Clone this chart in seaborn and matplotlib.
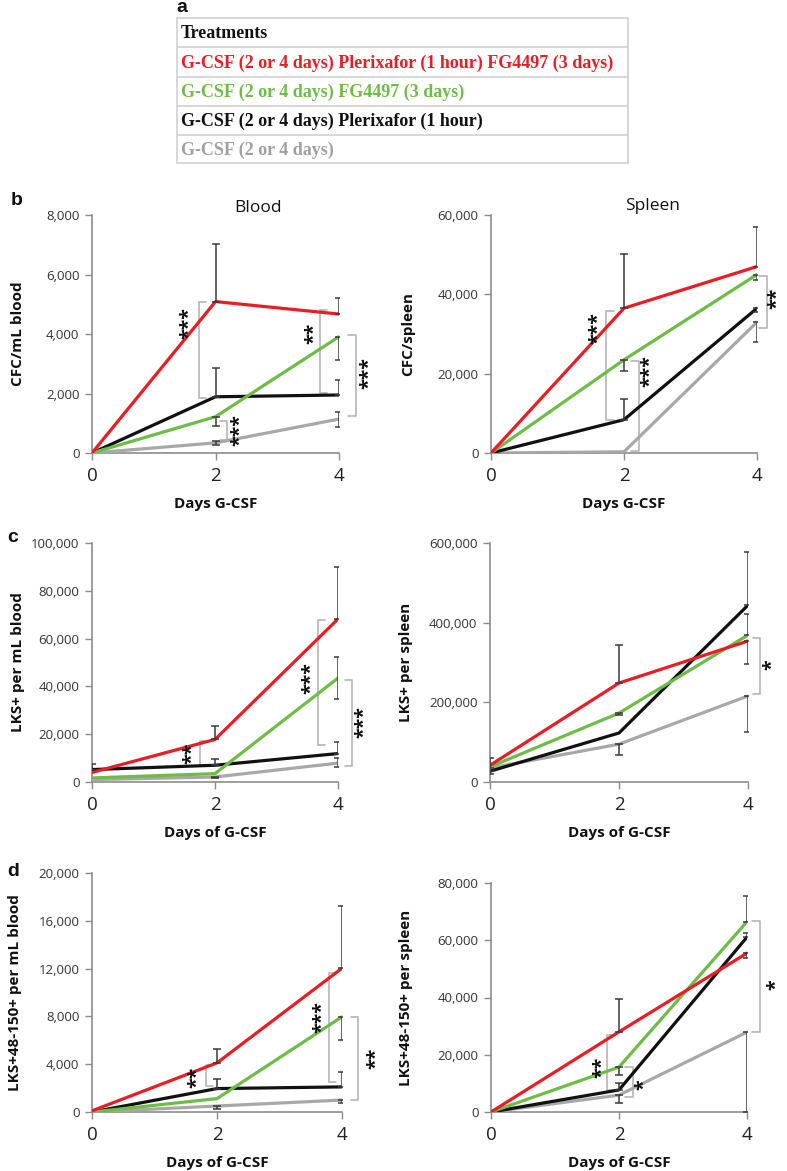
import pandas as pd
import matplotlib
matplotlib.use('Agg')
import matplotlib.pyplot as plt
import seaborn as sns
from matplotlib.ticker import FuncFormatter

sns.set_style('white')
plt.rcParams['font.family'] = ['Open Sans', 'DejaVu Sans']

################################################################################
# data

DAYS = [0, 2, 4]
GROUPS = ['G+P+FG', 'G+FG', 'G+P', 'G']
COLORS = {'G+P+FG': '#ec1c24', 'G+FG': '#6cbd45', 'G+P': '#111111', 'G': '#a8a8a8'}

TABLE_HEADER = 'Treatments'
TABLE_ROWS = [
    'G-CSF (2 or 4 days) Plerixafor (1 hour) FG4497 (3 days)',
    'G-CSF (2 or 4 days) FG4497 (3 days)',
    'G-CSF (2 or 4 days) Plerixafor (1 hour)',
    'G-CSF (2 or 4 days)',
]

# b - CFC
cfc_blood = {'G+P+FG': [0, 5090, 4670], 'G+FG': [0, 1220, 3910],
             'G+P': [0, 1890, 1950], 'G': [0, 340, 1140]}
cfc_spleen = {'G+P+FG': [0, 36500, 47000], 'G+FG': [0, 23500, 45000],
              'G+P': [0, 8400, 36500], 'G': [0, 300, 33000]}
# c - LKS+
lks_blood = {'G+P+FG': [4000, 17800, 68200], 'G+FG': [1700, 3500, 43500],
             'G+P': [5200, 7000, 11900], 'G': [1000, 2100, 7900]}
lks_spleen = {'G+P+FG': [42000, 248500, 354000], 'G+FG': [38000, 173000, 369000],
              'G+P': [27000, 123000, 444000], 'G': [35000, 95000, 216000]}
# d - LKS+48-150+
slam_blood = {'G+P+FG': [100, 4110, 12030], 'G+FG': [0, 1120, 7970],
              'G+P': [0, 1960, 2100], 'G': [0, 500, 1000]}
slam_spleen = {'G+P+FG': [0, 28000, 55500], 'G+FG': [0, 15700, 66500],
               'G+P': [0, 7700, 61100], 'G': [0, 5900, 27900]}

# error bars: (group, day, low end, high end)
cfc_blood_err = [('G+P+FG', 2, 5090, 7030), ('G+P+FG', 4, 4670, 5210),
                 ('G+FG', 2, 920, 1220), ('G+FG', 4, 3130, 3910),
                 ('G+P', 2, 1890, 2860), ('G+P', 4, 1950, 2450),
                 ('G', 2, 270, 410), ('G', 4, 870, 1380)]
cfc_spleen_err = [('G+P+FG', 2, 36500, 50100), ('G+P+FG', 4, 47000, 57000),
                  ('G+FG', 2, 20700, 23500), ('G+FG', 4, 43600, 45000),
                  ('G+P', 2, 8400, 13600), ('G+P', 4, 35500, 36500),
                  ('G', 4, 28000, 33000)]
lks_blood_err = [('G+P', 0, 5200, 7500), ('G+P+FG', 2, 17800, 23400),
                 ('G+P+FG', 4, 68200, 90000), ('G+P', 2, 7000, 9600),
                 ('G+P', 4, 11900, 16700), ('G+FG', 4, 34700, 52300),
                 ('G', 2, 1500, 2100), ('G', 4, 6300, 10000)]
lks_spleen_err = [('G', 0, 35000, 60000), ('G+P', 0, 20000, 27000),
                  ('G+P+FG', 2, 248500, 344000), ('G+FG', 2, 168000, 173000),
                  ('G', 2, 68000, 95000), ('G+P', 4, 444000, 578000),
                  ('G+FG', 4, 369000, 422000), ('G+P+FG', 4, 296000, 354000),
                  ('G', 4, 125500, 216000)]
slam_blood_err = [('G+P+FG', 2, 4110, 5260), ('G+P+FG', 4, 12030, 17240),
                  ('G+P', 2, 1960, 2740), ('G+P', 4, 2100, 3350),
                  ('G+FG', 4, 6020, 7970), ('G', 2, 250, 500), ('G', 4, 750, 1000)]
slam_spleen_err = [('G+P+FG', 2, 28000, 39500), ('G+P+FG', 4, 53800, 55500),
                   ('G+FG', 2, 12900, 15700), ('G+FG', 4, 66500, 75400),
                   ('G+P', 2, 7700, 10100), ('G+P', 4, 61100, 62500),
                   ('G', 2, 3100, 5900), ('G', 4, 0, 27900)]

# significance brackets: (x, top, bottom, open side, stars, star x, star y)
cfc_blood_sig = [(1.73, 5090, 1850, '[', '***', 1.55, 4360),
                 (3.69, 4810, 2010, '[', '**', 3.56, 4030),
                 (4.27, 3970, 1250, ']', '***', 4.45, 2690),
                 (2.19, 1060, 450, ']', '***', 2.37, 780)]
cfc_spleen_sig = [(1.73, 35700, 8400, '[', '***', 1.58, 31500),
                  (2.22, 23100, 600, ']', '***', 2.37, 20600),
                  (4.15, 44600, 31500, ']', '**', 4.28, 39000)]
lks_blood_sig = [(1.76, 17000, 7000, '[', '**', 1.60, 12000),
                 (3.67, 67800, 15500, '[', '***', 3.54, 43500),
                 (4.23, 42700, 6700, ']', '***', 4.40, 25100)]
lks_spleen_sig = [(4.19, 361500, 221000, ']', '*', 4.34, 293700)]
slam_blood_sig = [(1.82, 3920, 2150, '[', '**', 1.65, 2880),
                  (3.79, 11630, 2510, '[', '***', 3.66, 7950),
                  (4.26, 7950, 1000, ']', '**', 4.51, 4520)]
slam_spleen_sig = [(1.82, 27000, 7700, '[', '**', 1.71, 15700),
                   (2.22, 15700, 5200, ']', '*', 2.37, 9400),
                   (4.20, 66700, 27900, ']', '*', 4.42, 44400)]

################################################################################

W, H = 787, 1171
fig = plt.figure(figsize=(W / 100, H / 100), dpi=100)


def px_axes(left, top, right, bottom):
    return fig.add_axes([left / W, 1 - bottom / H, (right - left) / W, (bottom - top) / H])


def draw_panel(box, values, errors, sigs, ymax, ystep, ylabel, xlabel, ylab_px):
    ax = px_axes(*box)
    df = pd.DataFrame([(g, d, v) for g in GROUPS[::-1] for d, v in zip(DAYS, values[g])],
                      columns=['group', 'day', 'value'])
    sns.lineplot(data=df, x='day', y='value', hue='group', hue_order=GROUPS[::-1],
                 palette=COLORS, linewidth=2.3, legend=False, ax=ax, zorder=3)

    for g, d, lo, hi in errors:
        v = values[g][DAYS.index(d)]
        ax.errorbar(d, v, yerr=[[v - lo], [hi - v]], fmt='none', ecolor='#3a3a3a',
                    elinewidth=1.1, capsize=3, capthick=1.1, zorder=4)

    # stars rotated 90 deg; nudge right a little since the glyph sits high
    x_per_px = 4 / (box[2] - box[0])
    tick = 0.12
    for x, top, bot, side, stars, sx, sy in sigs:
        dx = tick if side == '[' else -tick
        ax.plot([x + dx, x, x, x + dx], [top, top, bot, bot], color='#b5b5b5',
                lw=1.2, clip_on=False, zorder=2)
        ax.text(sx + 2 * x_per_px, sy, stars, rotation=90, ha='center', va='center',
                fontsize=14, fontweight='bold', family='Open Sans', color='#111111',
                clip_on=False)

    ax.set_xlim(0, 4)
    ax.set_ylim(0, ymax)
    ax.set_xticks(DAYS)
    ax.set_yticks(range(0, ymax + 1, ystep))
    ax.yaxis.set_major_formatter(FuncFormatter(lambda v, p: f'{int(v):,}'))
    ax.tick_params(axis='x', labelsize=13.5, length=5, width=1, color='#8c8c8c',
                   pad=5, labelcolor='#222222', direction='out', bottom=True)
    ax.tick_params(axis='y', labelsize=9.5, length=5, width=1, color='#8c8c8c',
                   pad=4, labelcolor='#333333', direction='out', left=True)
    for s in ['top', 'right']:
        ax.spines[s].set_visible(False)
    for s in ['left', 'bottom']:
        ax.spines[s].set_color('#8c8c8c')
        ax.spines[s].set_linewidth(1.2)
    ax.set_ylabel(ylabel, fontsize=11, fontweight='bold', color='#111111')
    ax.set_xlabel(xlabel, fontsize=11, fontweight='bold', color='#111111')
    ax.yaxis.set_label_coords((ylab_px - box[0]) / (box[2] - box[0]), 0.5)
    ax.xaxis.set_label_coords(0.5, -44 / (box[3] - box[1]))
    return ax


draw_panel((92, 215, 339, 453), cfc_blood, cfc_blood_err, cfc_blood_sig,
           8000, 2000, 'CFC/mL blood', 'Days G-CSF', 25)
draw_panel((491, 215, 757, 453), cfc_spleen, cfc_spleen_err, cfc_spleen_sig,
           60000, 20000, 'CFC/spleen', 'Days G-CSF', 415)
draw_panel((92, 543, 338, 782), lks_blood, lks_blood_err, lks_blood_sig,
           100000, 20000, 'LKS+ per mL blood', 'Days of G-CSF', 25)
draw_panel((490, 543, 748, 782), lks_spleen, lks_spleen_err, lks_spleen_sig,
           600000, 200000, 'LKS+ per spleen', 'Days of G-CSF', 413)
draw_panel((92, 873, 342, 1112), slam_blood, slam_blood_err, slam_blood_sig,
           20000, 4000, 'LKS+48-150+ per mL blood', 'Days of G-CSF', 22)
draw_panel((491, 883, 747, 1112), slam_spleen, slam_spleen_err, slam_spleen_sig,
           80000, 20000, 'LKS+48-150+ per spleen', 'Days of G-CSF', 413)

fig.text(258 / W, 1 - 208 / H, 'Blood', fontsize=12.5, ha='center', va='center', color='#111111')
fig.text(652 / W, 1 - 206 / H, 'Spleen', fontsize=12.5, ha='center', va='center', color='#111111')

for letter, x, y in [('a', 182, 8), ('b', 17, 200), ('c', 13, 538), ('d', 13, 871)]:
    fig.text(x / W, 1 - y / H, letter, fontsize=14, fontweight='bold', ha='center',
             va='center', family='Liberation Sans', color='#111111')

# treatments table (panel a)
tab = px_axes(177, 18, 628, 163)
tab.set_xlim(0, 451)
tab.set_ylim(145, 0)
tab.axis('off')
row_edges = [0, 29, 59, 88, 117, 145]
for y in row_edges:
    tab.plot([0, 451], [y, y], color='#d4d4d4', lw=1.3, clip_on=False)
tab.plot([0, 0], [0, 145], color='#d4d4d4', lw=1.3, clip_on=False)
tab.plot([451, 451], [0, 145], color='#d4d4d4', lw=1.3, clip_on=False)
row_colors = ['#111111'] + [COLORS[g] for g in GROUPS]
row_colors[-1] = '#a0a0a0'
for i, (label, c) in enumerate(zip([TABLE_HEADER] + TABLE_ROWS, row_colors)):
    tab.text(4, (row_edges[i] + row_edges[i + 1]) / 2 + 1, label, fontsize=13,
             fontweight='bold', family='Liberation Serif', color=c, va='center', ha='left')

fig.savefig('out.png', dpi=100, facecolor='white')
